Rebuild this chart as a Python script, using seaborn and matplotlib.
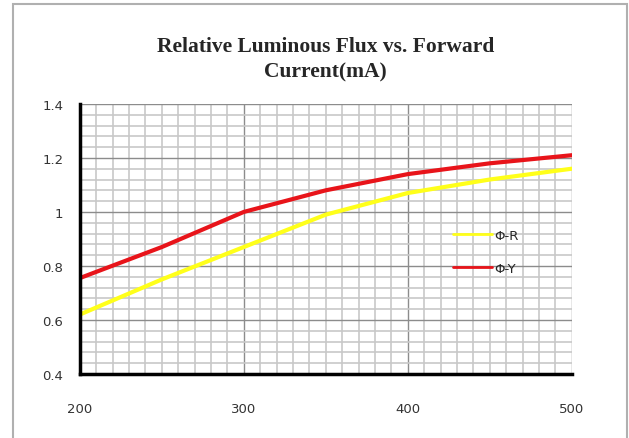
import numpy as np
import pandas as pd
import matplotlib
matplotlib.use("Agg")
import matplotlib.pyplot as plt
import matplotlib.patches as mpatches
import seaborn as sns

# === Datos ===
corriente = [200, 250, 300, 350, 400, 450, 500]
flujo_r = [0.62, 0.75, 0.87, 0.99, 1.07, 1.12, 1.16]
flujo_y = [0.755, 0.87, 1.0, 1.08, 1.14, 1.18, 1.21]
series = ["Φ-R", "Φ-Y"]
colores = ["#ffff1a", "#e8141a"]

x_ticks = [200, 300, 400, 500]
y_ticks = [0.4, 0.6, 0.8, 1.0, 1.2, 1.4]
y_labels = ["0.4", "0.6", "0.8", "1", "1.2", "1.4"]

df = pd.DataFrame({
    "Corriente": corriente * 2,
    "Flujo": flujo_r + flujo_y,
    "Serie": [series[0]] * len(corriente) + [series[1]] * len(corriente),
})

sns.set_style("white")
plt.rcParams["font.family"] = ["DejaVu Sans"]

fig = plt.figure(figsize=(6.29, 4.39), dpi=100)
ax = fig.add_axes([0.127, 0.146, 0.782, 0.615])

sns.lineplot(data=df, x="Corriente", y="Flujo", hue="Serie",
             palette=dict(zip(series, colores)), linewidth=3, ax=ax)

ax.set_xlim(200, 500)
ax.set_ylim(0.4, 1.4)

# === Rejilla ===
ax.set_xticks(x_ticks)
ax.set_xticks(np.arange(200, 501, 10), minor=True)
ax.set_yticks(y_ticks)
ax.set_yticks(np.arange(0.4, 1.401, 0.04), minor=True)
ax.set_yticklabels(y_labels)
ax.grid(which="minor", color="#c8c8c8", linewidth=1.2)
ax.grid(which="major", color="#8c8c8c", linewidth=1.0)
ax.set_axisbelow(True)

for lado in ["top", "right"]:
    ax.spines[lado].set_visible(False)
for lado in ["left", "bottom"]:
    ax.spines[lado].set_color("black")
    ax.spines[lado].set_linewidth(2.5)

ax.tick_params(which="major", direction="in", length=3, width=2.5, color="black",
               labelsize=9.5, labelcolor="#333333")
ax.tick_params(axis="x", pad=20)
ax.tick_params(axis="y", pad=12)
ax.tick_params(which="minor", length=0)
ax.set_xlabel("")
ax.set_ylabel("")

ax.set_title("Relative Luminous Flux vs. Forward\nCurrent(mA)",
             family="Liberation Serif", fontweight="bold", fontsize=15.5,
             pad=20, linespacing=1.35)

leg = ax.legend(loc="center left", bbox_to_anchor=(0.735, 0.452), frameon=False,
                handlelength=2.9, handletextpad=0.2, labelspacing=1.55,
                fontsize=9.5)
for linea in leg.get_lines():
    linea.set_linewidth(2)

# === Marco exterior ===
marco = mpatches.Rectangle((13 / 629, -0.05), 614 / 629, 1 - 5 / 439 + 0.05,
                           transform=fig.transFigure, fill=False,
                           edgecolor="#b0b0b0", linewidth=1.5, clip_on=False)
fig.patches.append(marco)

plt.savefig("out.png", dpi=100)
plt.close()
